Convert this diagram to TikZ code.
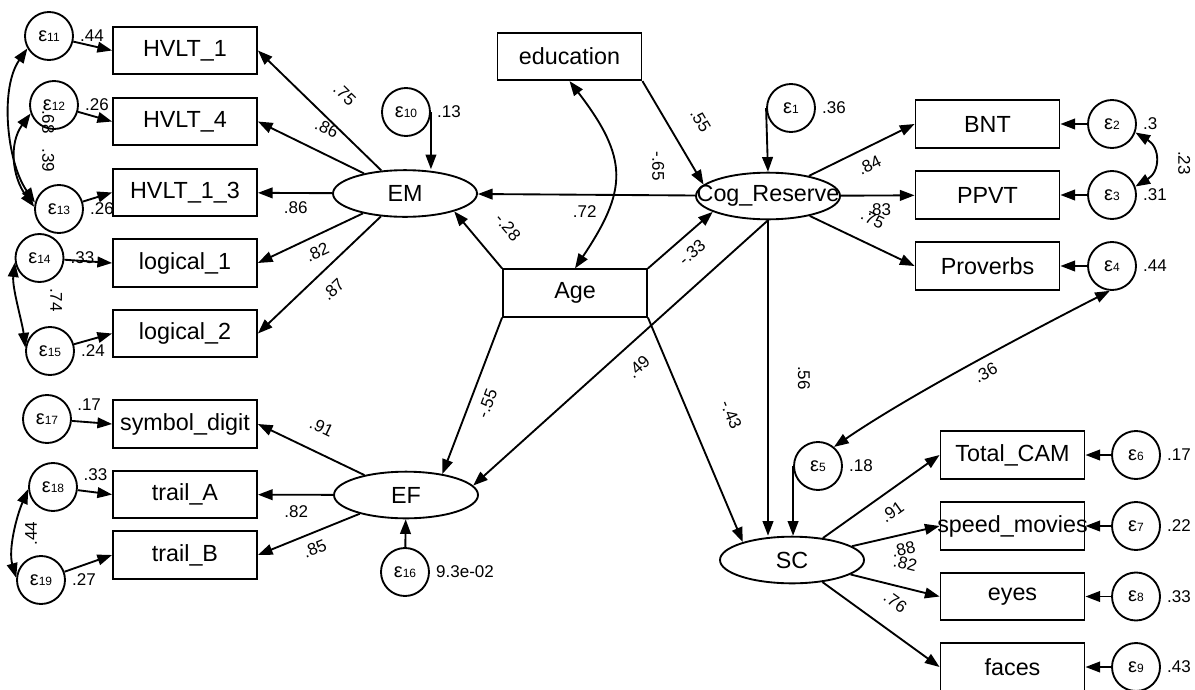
\documentclass[tikz,border=0pt]{standalone}
\usepackage{fontspec}
\setmainfont{Liberation Sans}
\usepackage{tikz}
\usetikzlibrary{arrows.meta,shapes.geometric}

\newcommand{\epsl}[1]{ε{\fontsize{9}{10}\selectfont #1}}

\begin{document}
\begin{tikzpicture}
  [x=0.75pt,y=-0.75pt,line width=1.4pt,>={Triangle[length=11pt,width=8pt]},
   obs/.style={draw,rectangle,minimum width=108pt,minimum height=35.5pt,inner sep=0pt,font=\fontsize{17.5}{20}\selectfont},
   lat/.style={draw,ellipse,minimum width=108pt,minimum height=35pt,inner sep=0pt,font=\fontsize{17.5}{20}\selectfont},
   err/.style={draw,circle,minimum size=36pt,inner sep=0pt,font=\fontsize{15}{17}\selectfont},
   lbl/.style={inner sep=0pt,font=\fontsize{12.75}{14}\selectfont},
   vr/.style={label={[lbl,label distance=4pt]right:#1}}] % pixel coordinates, y pointing down

  \useasboundingbox (0,0) rectangle (1195,689);

  % observed variables
  \node[obs] (hv1)  at (185,50.5)    {HVLT\_1};
  \node[obs] (hv4)  at (185,121.5)   {HVLT\_4};
  \node[obs] (hv13) at (185,192.5)   {HVLT\_1\_3};
  \node[obs] (lg1)  at (185,263)     {logical\_1};
  \node[obs] (lg2)  at (185,333.5)   {logical\_2};
  \node[obs] (sd)   at (185,424)     {symbol\_digit};
  \node[obs] (ta)   at (185,494.5)   {trail\_A};
  \node[obs] (tb)   at (185,555)     {trail\_B};
  \node[obs] (edu)  at (569.5,56.5)  {education};
  \node[obs] (age)  at (575,293)     {Age};
  \node[obs] (bnt)  at (987.5,124)   {BNT};
  \node[obs] (ppvt) at (987.5,195)   {PPVT};
  \node[obs] (prov) at (987.5,266)   {Proverbs};
  \node[obs] (cam)  at (1012.5,455)  {Total\_CAM};
  \node[obs] (spd)  at (1012.5,526)  {\makebox[0pt]{speed\_movies}};
  \node[obs] (eyes) at (1012.5,596.5){eyes};
  \node[obs] (face) at (1012.5,667)  {faces};

  % latent variables
  \node[lat] (em) at (405,193.5) {EM};
  \node[lat] (ef) at (406,495)   {EF};
  \node[lat] (cr) at (768,196)   {\makebox[0pt]{Cog\_Reserve}};
  \node[lat] (sc) at (792,560)   {SC};

  % error terms
  \node[err,vr=.36]     (e1)  at (791,108)    {\epsl{1}};
  \node[err,vr=.3]      (e2)  at (1112,124)   {\epsl{2}};
  \node[err,vr=.31]     (e3)  at (1112,195)   {\epsl{3}};
  \node[err,vr=.44]     (e4)  at (1112,266)   {\epsl{4}};
  \node[err,vr=.18]     (e5)  at (818,466)    {\epsl{5}};
  \node[err,vr=.17]     (e6)  at (1136,455)   {\epsl{6}};
  \node[err,vr=.22]     (e7)  at (1136,526)   {\epsl{7}};
  \node[err,vr=.33]     (e8)  at (1136,596.5) {\epsl{8}};
  \node[err,vr=.43]     (e9)  at (1136,667)   {\epsl{9}};
  \node[err,vr=.13]     (e10) at (406,112)    {\epsl{10}};
  \node[err,vr=.44]     (e11) at (49,36)      {\epsl{11}};
  \node[err,vr=.26]     (e12) at (54,105)     {\epsl{12}};
  \node[err,vr=.26]     (e13) at (59,209)     {\epsl{13}};
  \node[err,vr=.33]     (e14) at (39.5,258)   {\epsl{14}};
  \node[err,vr=.24]     (e15) at (50,351)     {\epsl{15}};
  \node[err,vr=9.3e-02] (e16) at (405,572)    {\epsl{16}};
  \node[err,label={[lbl,label distance=4pt]14:.17}] (e17) at (47,419) {\epsl{17}};
  \node[err,label={[lbl,label distance=4pt]10:.33}] (e18) at (53,487) {\epsl{18}};
  \node[err,vr=.27]     (e19) at (41,580)     {\epsl{19}};

  % loadings
  \draw[->] (em) -- node[lbl,sloped,pos=.46,above=16.5pt] {.75} (hv1.east);
  \draw[->] (em) -- node[lbl,sloped,pos=.45,above=12.75pt] {.86} (hv4.east);
  \draw[->] (em) -- node[lbl,sloped,pos=.49,below=6pt] {.86} (hv13);
  \draw[->] (em) -- node[lbl,sloped,pos=.5,below=6.75pt] {.82} (lg1.east);
  \draw[->] (em) -- node[lbl,sloped,pos=.5,below=9.75pt] {.87} (lg2.east);
  \draw[->] (ef) -- node[lbl,sloped,pos=.5,above=13pt] {.91} (sd.east);
  \draw[->] (ef) -- node[lbl,sloped,pos=.49,below=7.5pt] {.82} (ta);
  \draw[->] (ef) -- node[lbl,sloped,pos=.5,below=6.5pt] {.85} (tb.east);
  \draw[->] (cr) -- node[lbl,sloped,pos=.5,below=7.7pt] {.84} (bnt.west);
  \draw[->] (cr) -- node[lbl,sloped,pos=.52,below=5.25pt] {.83} (ppvt);
  \draw[->] (cr) -- node[lbl,sloped,pos=.5,above=13.2pt] {.75} (prov.west);
  \draw[->] (sc) -- node[lbl,sloped,pos=.5,below=9pt] {.91} (cam.west);
  \draw[->] (sc) -- node[lbl,sloped,pos=.55,below=5.6pt] {.88} (spd.west);
  \draw[->] (sc) -- node[lbl,sloped,pos=.55,above=12.75pt] {.82} (eyes.west);
  \draw[->] (sc) -- node[lbl,sloped,pos=.49,above=14.7pt] {.76} (face.west);

  % structural paths
  \draw[->] (edu.south east) -- node[lbl,sloped,pos=.53,above=17.25pt] {.55} (cr.170);
  \draw[->] (cr) -- node[lbl,pos=.17,yshift=21.75pt,rotate=-90] {-.65} (em);
  \draw[->] (age.north west) -- node[lbl,sloped,pos=.37,above=18pt] {-.28} (em.340);
  \draw[->] (age.north east) -- node[lbl,sloped,pos=.51,below=7.3pt] {-.33} (cr.196);
  \draw[->] (age.south west) -- node[lbl,sloped,pos=.51,below=7.3pt] {-.55} (ef.30);
  \draw[->] (age.south east) -- node[lbl,sloped,pos=.5,above=23.9pt] {-.43} (sc.160);
  \draw[->] (cr.south) -- node[lbl,sloped,pos=.49,below=11.5pt] {.49} (ef.8);
  \draw[->] (cr.south) -- (cr.south |- sc.north)
    node[lbl,pos=.5,xshift=27pt,rotate=-90] {.56};
  \draw[<->] (edu.south) .. controls +(60,78) and +(52,-78) .. (age.north)
    node[lbl,pos=.72,left=7pt] {.72};

  % error paths
  \draw[->] (e1.west) -- (cr.north);
  \draw[->] (e2) -- (bnt);
  \draw[->] (e3) -- (ppvt);
  \draw[->] (e4) -- (prov);
  \draw[->] (e5.west) -- (e5.west |- sc.north);
  \draw[->] (e6) -- (cam);
  \draw[->] (e7) -- (spd);
  \draw[->] (e8) -- (eyes);
  \draw[->] (e9) -- (face);
  \draw[->] (e10.east) -- (e10.east |- em.north);
  \draw[->] (e11) -- (hv1.west);
  \draw[->] (e12) -- (hv4.west);
  \draw[->] (e13) -- (hv13.west);
  \draw[->] (e14) -- (lg1.west);
  \draw[->] (e15) -- (lg2.west);
  \draw[->] (e16) -- (ef);
  \draw[->] (e17) -- (sd.west);
  \draw[->] (e18) -- (ta.west);
  \draw[->] (e19) -- (tb.west);

  % covariances
  \draw[<->] (e2.340) .. controls +(25,15) and +(25,-15) .. (e3.20)
    node[lbl,pos=.5,xshift=22.5pt,yshift=-2.6pt,rotate=-90] {.23};
  \draw[<->] (e5.50) .. controls +(74,-51) and +(-80,41) .. (e4.265)
    node[lbl,sloped,pos=.53,below=5.7pt] {.36};
  \draw[<->] (e11.210) .. controls +(-28,40) and +(-28,-40) .. (e13.165)
    node[lbl,pos=.5,xshift=28.5pt,yshift=2.6pt,rotate=-90] {.68};
  \draw[<->] (e12.200) .. controls +(-22,30) and +(-22,-30) .. (e13.175)
    node[lbl,pos=.5,xshift=24.2pt,rotate=-90] {.39};
  \draw[<->] (e14.190) .. controls +(-3,25) and +(-3,-25) .. (e15.172)
    node[lbl,pos=.5,xshift=28.7pt,yshift=3.75pt,rotate=-90] {.74};
  \draw[<->] (e18.185) .. controls +(-12,28) and +(-8,-28) .. (e19.175)
    node[lbl,pos=.5,xshift=12.3pt,rotate=90] {.44};

\end{tikzpicture}
\end{document}
